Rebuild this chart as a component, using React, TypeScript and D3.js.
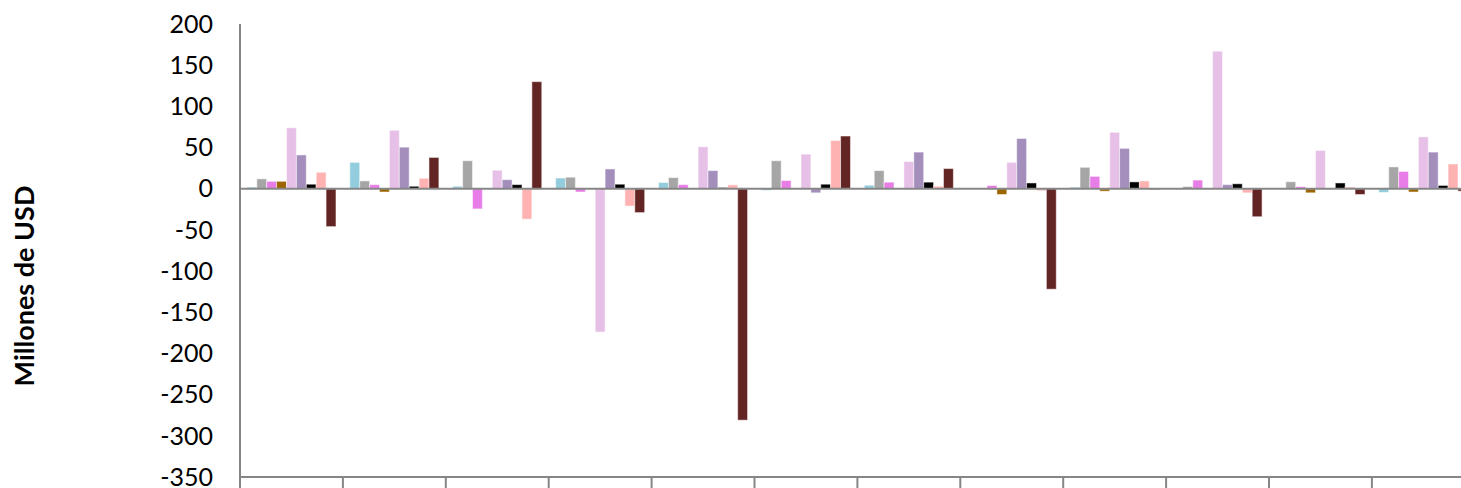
import React from "react";
import * as d3 from "d3";

const categories = ["C1", "C2", "C3", "C4", "C5", "C6", "C7", "C8", "C9", "C10", "C11", "C12"];
const seriesNames = ["S1", "S2", "S3", "S4", "S5", "S6", "S7", "S8", "S9"];
const seriesColors = ["#93CDDD", "#A6A6A6", "#E87DE8", "#9C6500", "#E6C0E6", "#A38EBC", "#000000", "#FFB2B2", "#632523"];

const s1 = [2, 32, 3, 13, 7.5, -2, 4.3, 0, 2, 0, 0, -4.5];
const s2 = [12, 9.5, 34, 14, 13.5, 34, 22, 0, 26, 2.7, 8.5, 26.5];
const s3 = [9, 5, -24.5, -4, 5, 10, 8, 4, 15, 10.5, 2.5, 21];
const s4 = [9, -4, 0, 0, 0, 0, 0, -7, -3, 0, -5, -4];
const s5 = [74, 71, 22.5, -174, 51, 42, 33, 32, 68.5, 167, 46.5, 63];
const s6 = [41, 50.5, 11, 24, 22, -5, 44.5, 61, 49, 5, 0, 44.5];
const s7 = [5.5, 3, 5, 5.5, 1.5, 5.5, 8, 7, 8.3, 6, 7, 4];
const s8 = [20, 12.7, -37, -21, 4.7, 58.5, 3, -2.5, 9.5, -5, 2, 30];
const s9 = [-46, 38, 130, -29, -281, 64, 24.5, -122, -1, -34, -7, -3];
const seriesValues = [s1, s2, s3, s4, s5, s6, s7, s8, s9];

const yTicks = [200, 150, 100, 50, 0, -50, -100, -150, -200, -250, -300, -350];

export default function App() {
  const width = 1461;
  const height = 488;
  const left = 240;
  const catW = 102.9;
  const top = 24;
  const bottom = 477;

  const x = d3.scaleBand<string>().domain(categories).range([left, left + catW * categories.length]).paddingInner(0).paddingOuter(0);
  const xs = d3.scaleBand<string>().domain(seriesNames).range([0, x.bandwidth()]).paddingInner(0).paddingOuter(0.7);
  const y = d3.scaleLinear().domain([-350, 200]).range([bottom, top]);
  const y0 = y(0);
  const axisColor = "#868686";
  const font = "Lato, 'Open Sans', sans-serif";

  return (
    <svg width={width} height={height} style={{ position: "absolute", left: 0, top: 0, background: "#fff" }}>
      <rect x={0} y={0} width={width} height={height} fill="#fff" />
      {seriesNames.map((s, si) =>
        categories.map((c, ci) => {
          const v = seriesValues[si][ci];
          if (v === 0) return null;
          const bx = (x(c) as number) + (xs(s) as number);
          const yv = y(v);
          return (
            <rect
              key={s + c}
              x={bx}
              y={Math.min(yv, y0)}
              width={xs.bandwidth()}
              height={Math.abs(yv - y0)}
              fill={seriesColors[si]}
              stroke="#ffffff"
              strokeOpacity={0.5}
              strokeWidth={1}
            />
          );
        })
      )}
      <line x1={left} x2={width} y1={y0} y2={y0} stroke={axisColor} strokeWidth={2} />
      <line x1={left} x2={width} y1={bottom} y2={bottom} stroke={axisColor} strokeWidth={2} />
      {categories.map((c) => (
        <line key={"t" + c} x1={x(c) as number} x2={x(c) as number} y1={bottom} y2={height} stroke={axisColor} strokeWidth={2} />
      ))}
      <line x1={left} x2={left} y1={top} y2={height} stroke={axisColor} strokeWidth={2} />
      {yTicks.map((t) => (
        <text key={"y" + t} x={213} y={y(t)} dy="0.35em" textAnchor="end" fontFamily={font} fontSize={25} fill="#000">
          {t}
        </text>
      ))}
      <text
        transform={`translate(34, ${286}) rotate(-90)`}
        textAnchor="middle"
        fontFamily={font}
        fontWeight="bold"
        fontSize={27}
        fill="#000"
      >
        Millones de USD
      </text>
    </svg>
  );
}
